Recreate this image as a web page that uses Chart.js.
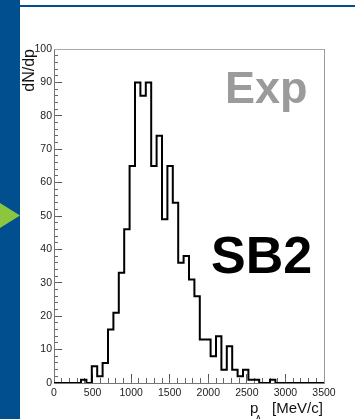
<!DOCTYPE html>
<html>
<head>
<meta charset="utf-8">
<script src="https://cdn.jsdelivr.net/npm/chart.js@4.4.1/dist/chart.umd.min.js"></script>
<style>
  html, body { margin: 0; padding: 0; background: #fff; overflow: hidden; }
  canvas { display: block; }
</style>
</head>
<body>
<canvas id="c" width="355" height="419"></canvas>
<script>
// Λ momentum distribution for the SB2 selection, experimental data.
// Histogram: 50 bins of 70 MeV/c from 0 to 3500 MeV/c.
const binLow = 0;
const binWidth = 70;
const counts = [
  0, 0, 0, 0, 0, 1, 0, 5, 2, 6,
  16, 21, 33, 46, 65, 90, 86, 90, 65, 74,
  49, 65, 54, 36, 38, 31, 26, 13, 13, 8,
  14, 4, 11, 4, 2, 4, 1, 1, 0, 0,
  1, 0, 0, 0, 0, 0, 0, 0, 0, 0
];
const xRange = [0, 3500];
const yRange = [0, 100];
const xTickValues = [0, 500, 1000, 1500, 2000, 2500, 3000, 3500];
const yTickValues = [0, 10, 20, 30, 40, 50, 60, 70, 80, 90, 100];
const xMinorStep = 100;
const yMinorStep = 2;

const FONT = "'Liberation Sans', Arial, Helvetica, sans-serif";
const BLUE = '#024f8f';

// outline points at the left edge of each bin, plus the closing right edge
const outline = counts.map((c, i) => ({ x: binLow + i * binWidth, y: c }));
outline.push({ x: binLow + counts.length * binWidth, y: counts[counts.length - 1] });

function stepTicks(lo, hi, step) {
  const t = [];
  for (let v = lo; v <= hi + 1e-9; v += step) t.push({ value: v });
  return t;
}

const plainNumber = v => String(v);

const decorations = {
  id: 'decorations',
  beforeDraw(chart) {
    const ctx = chart.ctx;
    ctx.save();
    ctx.fillStyle = '#ffffff';
    ctx.fillRect(0, 0, chart.width, chart.height);
    // slide frame: side band and top rule
    ctx.fillStyle = BLUE;
    ctx.fillRect(0, 0, 20, chart.height);
    ctx.fillRect(20, 5, chart.width - 20, 2);
    // pointer arrow
    ctx.fillStyle = '#8cc63f';
    ctx.beginPath();
    ctx.moveTo(0, 203);
    ctx.lineTo(20, 215.5);
    ctx.lineTo(0, 228);
    ctx.closePath();
    ctx.fill();
    ctx.restore();
  },
  afterDraw(chart) {
    const ctx = chart.ctx;
    ctx.save();
    ctx.textBaseline = 'alphabetic';
    ctx.textAlign = 'left';
    // labels inside the frame
    ctx.fillStyle = '#9b9b9b';
    ctx.font = `bold 45px ${FONT}`;
    ctx.fillText('Exp', 225, 102.5);
    ctx.fillStyle = '#000000';
    ctx.font = `bold 52px ${FONT}`;
    ctx.fillText('SB2', 211, 272.5);
    // x axis title p_Λ [MeV/c]
    ctx.fillStyle = '#111111';
    ctx.font = `15px ${FONT}`;
    ctx.fillText('p', 250, 413);
    ctx.font = `10px ${FONT}`;
    ctx.fillText('Λ', 255, 423);
    ctx.font = `15px ${FONT}`;
    ctx.fillText('[MeV/c]', 272, 413);
    ctx.restore();
  }
};

new Chart(document.getElementById('c'), {
  type: 'line',
  data: {
    datasets: [{
      data: outline,
      xAxisID: 'x',
      yAxisID: 'y',
      stepped: 'before',
      borderColor: '#000000',
      borderWidth: 2,
      borderJoinStyle: 'miter',
      borderCapStyle: 'butt',
      pointRadius: 0,
      fill: false,
      tension: 0
    }]
  },
  options: {
    responsive: false,
    animation: false,
    devicePixelRatio: 1,
    layout: { padding: { top: 49, right: 31, left: 0, bottom: 0 } },
    plugins: { legend: { display: false }, tooltip: { enabled: false } },
    scales: {
      x: {
        type: 'linear', position: 'bottom', min: xRange[0], max: xRange[1],
        afterBuildTicks: s => { s.ticks = xTickValues.map(v => ({ value: v })); },
        afterFit: s => { s.height = 36; },
        ticks: { font: { family: FONT, size: 10.5 }, color: '#222', padding: 13, maxRotation: 0, autoSkip: false, callback: plainNumber },
        grid: { drawOnChartArea: false, drawTicks: true, tickLength: -9, tickColor: '#555', tickWidth: 1 },
        border: { display: true, color: '#777', width: 1 }
      },
      xMinor: {
        type: 'linear', position: 'bottom', weight: -1, min: xRange[0], max: xRange[1],
        afterBuildTicks: s => { s.ticks = stepTicks(xRange[0], xRange[1], xMinorStep); },
        afterFit: s => { s.height = 0; },
        ticks: { display: false },
        grid: { drawOnChartArea: false, drawTicks: true, tickLength: -5, tickColor: '#666', tickWidth: 1 },
        border: { display: false }
      },
      y: {
        type: 'linear', position: 'left', min: yRange[0], max: yRange[1],
        afterBuildTicks: s => { s.ticks = yTickValues.map(v => ({ value: v })); },
        afterFit: s => { s.width = 54; },
        ticks: { font: { family: FONT, size: 10.5 }, color: '#222', padding: 10, callback: plainNumber },
        grid: { drawOnChartArea: false, drawTicks: true, tickLength: -8, tickColor: '#555', tickWidth: 1 },
        border: { display: true, color: '#777', width: 1 },
        title: {
          display: true, text: 'dN/dp', align: 'end', color: '#111',
          font: { family: FONT, size: 16 }, padding: { top: 20, bottom: 0 }
        }
      },
      yMinor: {
        type: 'linear', position: 'left', weight: -1, min: yRange[0], max: yRange[1],
        afterBuildTicks: s => { s.ticks = stepTicks(yRange[0], yRange[1], yMinorStep); },
        afterFit: s => { s.width = 0; },
        ticks: { display: false },
        grid: { drawOnChartArea: false, drawTicks: true, tickLength: -4, tickColor: '#666', tickWidth: 1 },
        border: { display: false }
      },
      xTop: {
        type: 'linear', position: 'top', min: xRange[0], max: xRange[1],
        afterFit: s => { s.height = 0; },
        ticks: { display: false },
        grid: { drawOnChartArea: false, drawTicks: false },
        border: { display: true, color: '#aaa', width: 1 }
      },
      yRight: {
        type: 'linear', position: 'right', min: yRange[0], max: yRange[1],
        afterFit: s => { s.width = 0; },
        ticks: { display: false },
        grid: { drawOnChartArea: false, drawTicks: false },
        border: { display: true, color: '#999', width: 1 }
      }
    }
  },
  plugins: [decorations]
});
</script>
</body>
</html>
